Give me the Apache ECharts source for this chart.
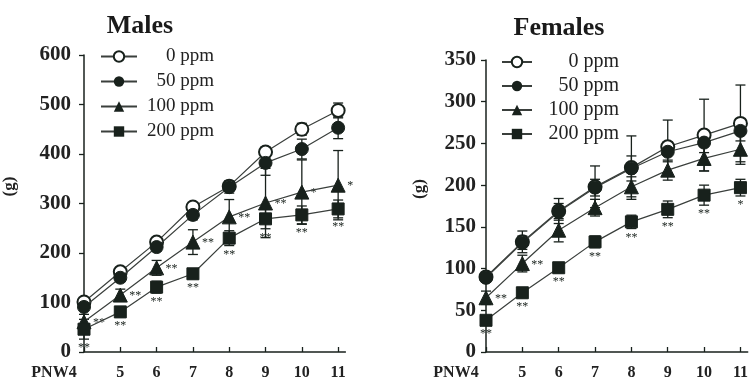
<!DOCTYPE html>
<html><head><meta charset="utf-8">
<script src="https://cdn.jsdelivr.net/npm/echarts@6/dist/echarts.min.js"></script>
<style>html,body{margin:0;padding:0;background:#fff}#c{width:751px;height:385px}</style>
</head><body><div id="c"></div>
<script>
const categories = ['PNW4','5','6','7','8','9','10','11'];
const doses = ['0 ppm','50 ppm','100 ppm','200 ppm'];
const symbols = ['emptyCircle','circle','triangle','rect'];

// Males body weight (g), mean and SD
const males0   = [101, 162, 222, 293, 335, 404, 450, 488];
const males50  = [ 91, 150, 212, 277, 333, 382, 410, 453];
const males100 = [ 61, 115, 170, 222, 273, 301, 323, 337];
const males200 = [ 46,  81, 131, 158, 230, 269, 277, 289];
const males0SD   = [ 6,  8,  8,  8, 10, 10, 12, 15];
const males50SD  = [ 6,  8,  8, 10, 12, 25, 20, 22];
const males100SD = [15, 12, 15, 25, 35, 70, 65, 70];
const males200SD = [20, 10, 12, 10, 15, 20, 18, 18];
const malesSig100 = ['**','**','**','**','**','**','*','*'];
const malesSig200 = ['**','**','**','**','**','**','**','**'];

// Females body weight (g), mean and SD
const females0   = [ 90, 132, 169, 198, 221, 246, 260, 274];
const females50  = [ 89, 131, 168, 197, 220, 240, 251, 265];
const females100 = [ 65, 106, 146, 173, 198, 218, 232, 243];
const females200 = [ 38,  71, 101, 132, 156, 171, 188, 197];
const females0SD   = [ 5, 13, 15, 25, 38, 32, 43, 46];
const females50SD  = [ 5,  8, 10, 10, 15, 12, 12, 12];
const females100SD = [ 8, 10, 14, 10, 12, 12, 15, 18];
const females200SD = [ 5,  6,  6,  7,  8, 10, 12, 10];
const femalesSig100 = ['**','**','','','','','',''];
const femalesSig200 = ['**','**','**','**','**','**','**','*'];

const maleYTicks = [0,100,200,300,400,500,600];
const femaleYTicks = [0,50,100,150,200,250,300,350];

const INK = '#18211c';
const SERIF = '"Liberation Serif","DejaVu Serif",serif';

function lineSeries(name, i, data, gi){
  return {
    name: name, type: 'line', xAxisIndex: gi, yAxisIndex: gi,
    data: data.map((v,k)=>[k,v]),
    symbol: symbols[i], symbolSize: i===2 ? 14 : (i===3 ? 12 : 13),
    showSymbol: true,
    lineStyle: {color: '#3a3f3c', width: 1.2},
    itemStyle: i===0 ? {color: INK, borderColor: INK, borderWidth: 1.5} : {color: INK, borderColor: INK},
    z: 5 + i, animation: false
  };
}
function errSeries(mean, sd, gi){
  return {
    type: 'custom', xAxisIndex: gi, yAxisIndex: gi, silent: true, z: 3,
    data: mean.map((v,k)=>[k, v, sd[k]]),
    renderItem: function(params, api){
      const x = api.value(0), m = api.value(1), s = api.value(2);
      const top = api.coord([x, m + s]), bot = api.coord([x, m - s]);
      const w = 5;
      const st = {stroke: INK, lineWidth: 1.3};
      return {type:'group', children:[
        {type:'line', shape:{x1: top[0], y1: top[1], x2: bot[0], y2: bot[1]}, style: st},
        {type:'line', shape:{x1: top[0]-w, y1: top[1], x2: top[0]+w, y2: top[1]}, style: st},
        {type:'line', shape:{x1: bot[0]-w, y1: bot[1], x2: bot[0]+w, y2: bot[1]}, style: st}
      ]};
    }, animation: false
  };
}
function sigSeries(mean, sd, sig, gi, mode){
  return {
    type: 'custom', xAxisIndex: gi, yAxisIndex: gi, silent: true, z: 4,
    data: mean.map((v,k)=>[k, v, sd[k]]),
    renderItem: function(params, api){
      const x = api.value(0), m = api.value(1), s = api.value(2);
      const txt = sig[params.dataIndex];
      if (!txt) return null;
      let p;
      if (mode === 'right') { p = api.coord([x, m]); p = [p[0] + 9, p[1] + 1]; }
      else { p = api.coord([x, m - s]); p = [p[0], p[1] + 9]; }
      return {type:'text', style:{text: txt, x: p[0], y: p[1], fill: INK,
        font: '12px ' + SERIF, align: mode === 'right' ? 'left' : 'center', verticalAlign: 'middle'}};
    }, animation: false
  };
}

const xLabelFmt = function(v){
  const i = Math.round(v);
  if (Math.abs(v - i) > 1e-6 || i < 0 || i >= categories.length) return '';
  return i === 0 ? '{f|' + categories[i] + '}' : categories[i];
};

function xAxis(gi){
  return {
    type: 'value', gridIndex: gi, min: 0, max: 7.2, interval: 1,
    splitLine: {show: false},
    axisLine: {show: true, lineStyle: {color: INK, width: 1.5}},
    axisTick: {show: true, inside: true, length: 5, lineStyle: {color: INK, width: 1.3}, customValues: [0,1,2,3,4,5,6,7]},
    axisLabel: {customValues: [0,1,2,3,4,5,6,7], formatter: xLabelFmt, margin: 13,
      fontFamily: SERIF, fontWeight: 'bold', fontSize: 16, color: '#222',
      rich: {f: {fontFamily: SERIF, fontWeight: 'bold', fontSize: 16, color: '#222', padding: [0, 60, 0, 0]}}}
  };
}
function yAxis(gi, ticks, gap, margin){
  return {
    type: 'value', gridIndex: gi, min: ticks[0], max: ticks[ticks.length-1], interval: ticks[1]-ticks[0],
    splitLine: {show: false},
    name: '(g)', nameLocation: 'middle', nameRotate: 90, nameGap: gap,
    nameTextStyle: {fontFamily: SERIF, fontWeight: 'bold', fontSize: 17, color: '#222', padding: [0, 0, 0, 34]},
    axisLine: {show: true, lineStyle: {color: INK, width: 1.5}},
    axisTick: {show: true, length: 5, lineStyle: {color: INK, width: 1.3}},
    axisLabel: {margin: margin, fontFamily: SERIF, fontWeight: 'bold', fontSize: 21, color: '#222'}
  };
}
function legend(left, top, w, txtW, fs, gap){
  return {
    left: left, top: top, orient: 'vertical', itemWidth: w, itemHeight: 13, itemGap: gap,
    data: doses, selectedMode: false, padding: 0,
    formatter: function(n){ return '{r|' + n + '}'; },
    textStyle: {fontFamily: SERIF, fontSize: fs, color: '#222',
      rich: {r: {fontFamily: SERIF, fontSize: fs, lineHeight: 16, color: '#222', width: txtW, align: 'right'}}}
  };
}

const series = [];
const mData = [males0, males50, males100, males200];
const mSD = [males0SD, males50SD, males100SD, males200SD];
const fData = [females0, females50, females100, females200];
const fSD = [females0SD, females50SD, females100SD, females200SD];
for (let i = 0; i < 4; i++) {
  series.push(errSeries(mData[i], mSD[i], 0));
  series.push(errSeries(fData[i], fSD[i], 1));
}
for (let i = 0; i < 4; i++) {
  series.push(lineSeries(doses[i], i, mData[i], 0));
  series.push(lineSeries(doses[i], i, fData[i], 1));
}
series.push(sigSeries(males100, males100SD, malesSig100, 0, 'right'));
series.push(sigSeries(males200, males200SD, malesSig200, 0, 'bottom'));
series.push(sigSeries(females100, females100SD, femalesSig100, 1, 'right'));
series.push(sigSeries(females200, females200SD, femalesSig200, 1, 'bottom'));

const chart = echarts.init(document.getElementById('c'), null, {renderer: 'canvas'});
chart.setOption({
  animation: false,
  backgroundColor: '#fff',
  title: [
    {text: 'Males', left: 135, top: 8, textAlign: 'center',
      textStyle: {fontFamily: SERIF, fontWeight: 'bold', fontSize: 26, color: '#1a1a1a'}},
    {text: 'Females', left: 554, top: 10, textAlign: 'center',
      textStyle: {fontFamily: SERIF, fontWeight: 'bold', fontSize: 26, color: '#1a1a1a'}}
  ],
  legend: [legend(100, 47, 36, 72, 19, 6), legend(501, 52, 30, 82, 20, 4)],
  grid: [
    {left: 79, top: 55, width: 266.4, bottom: 33},
    {left: 486, top: 60, width: 266.4, bottom: 33}
  ],
  xAxis: [xAxis(0), xAxis(1)],
  yAxis: [yAxis(0, maleYTicks, 66, 13), yAxis(1, femaleYTicks, 58, 10)],
  series: series
});
</script></body></html>
